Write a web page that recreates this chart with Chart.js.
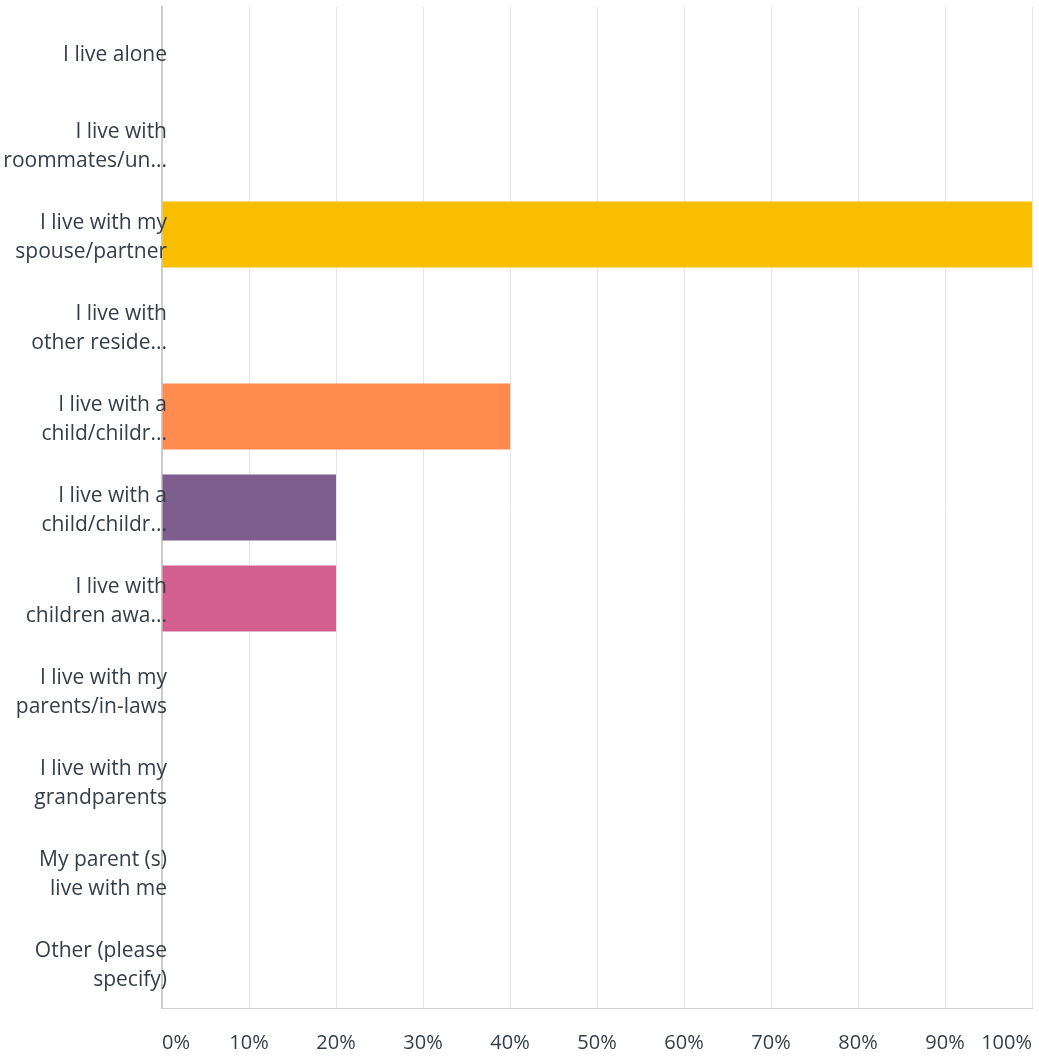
<!DOCTYPE html>
<html>
<head>
<meta charset="utf-8">
<script src="https://cdn.jsdelivr.net/npm/chart.js@4"></script>
<style>
  html, body { margin: 0; padding: 0; background: #fff; }
  #wrap { width: 1039px; height: 1057px; }
</style>
</head>
<body>
<div id="wrap"><canvas id="js--chart"></canvas></div>
<script>
const categories = [
    ["I live alone"],
    ["I live with", "roommates/un..."],
    ["I live with my", "spouse/partner"],
    ["I live with", "other reside..."],
    ["I live with a", "child/childr..."],
    ["I live with a", "child/childr..."],
    ["I live with", "children awa..."],
    ["I live with my", "parents/in-laws"],
    ["I live with my", "grandparents"],
    ["My parent (s)", "live with me"],
    ["Other (please", "specify)"]
];
const percentValues = [0, 0, 100, 0, 40, 20, 20, 0, 0, 0, 0];
const barColors = ["#f9be00", "#f9be00", "#f9be00", "#f9be00", "#ff8b4f", "#7d5e8f", "#d25f8f", "#f9be00", "#f9be00", "#f9be00", "#f9be00"];
const tickLabels = ["0%", "10%", "20%", "30%", "40%", "50%", "60%", "70%", "80%", "90%", "100%"];

const textColor = "#333e48";
const fontFamily = "'Open Sans', sans-serif";

// survey-tool look: first/last x labels hug the ends, y labels spill a bit into the plot
const labelTweaks = {
    id: "labelTweaks",
    beforeDraw: function (chart) {
        const x = chart.scales.x;
        const xItems = x.getLabelItems(chart.chartArea);
        if (xItems.length) {
            xItems[0].options.textAlign = "left";
            xItems[xItems.length - 1].options.textAlign = "right";
        }
        const y = chart.scales.y;
        const yItems = y.getLabelItems(chart.chartArea);
        yItems.forEach(function (item) {
            if (item._moved) return;
            item._moved = true;
            item.options.textAlign = "right";
            item.options.translation[0] = y.right + 5;
            item.options.translation[1] += 3;
        });
    }
};

const data = {
    labels: categories,
    datasets: [{
        data: percentValues,
        backgroundColor: barColors,
        borderWidth: 0,
        barPercentage: 0.726,
        categoryPercentage: 1
    }]
};

const config = {
    type: "bar",
    data: data,
    options: {
        indexAxis: "y",
        responsive: true,
        maintainAspectRatio: false,
        animation: false,
        layout: { padding: { top: 7, right: 7, left: 0, bottom: 0 } },
        plugins: {
            legend: { display: false },
            tooltip: { enabled: false }
        },
        scales: {
            x: {
                min: 0,
                max: 100,
                ticks: {
                    stepSize: 10,
                    padding: 23,
                    color: textColor,
                    font: { family: fontFamily, size: 20 },
                    callback: function (value, index) {
                        return tickLabels[index];
                    }
                },
                grid: { color: "#e6e6e6", lineWidth: 1, drawTicks: false },
                border: { color: "#cccccc", width: 1 },
                afterFit: function (scale) {
                    scale.height = 49;
                    scale.paddingLeft = 0;
                    scale.paddingRight = 0;
                }
            },
            y: {
                ticks: {
                    mirror: true,
                    padding: 0,
                    z: 1,
                    color: textColor,
                    font: { family: fontFamily, size: 21, lineHeight: 1.38 }
                },
                grid: { display: false, drawTicks: false },
                border: { color: "#cccccc", width: 2 },
                afterFit: function (scale) {
                    scale.width = 162;
                    scale.paddingTop = 0;
                    scale.paddingBottom = 0;
                }
            }
        }
    },
    plugins: [labelTweaks]
};

new Chart(document.getElementById("js--chart"), config);
</script>
</body>
</html>
